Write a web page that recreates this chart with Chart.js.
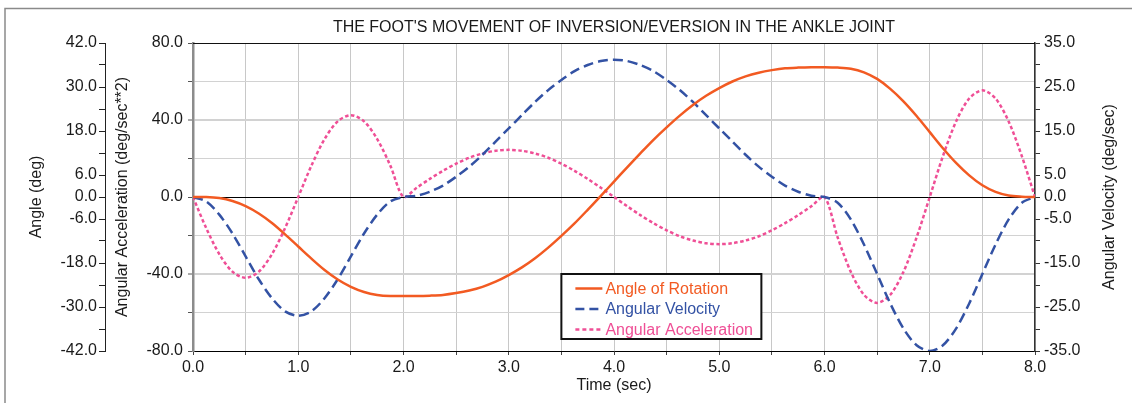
<!DOCTYPE html>
<html>
<head>
<meta charset="utf-8">
<script src="https://cdn.jsdelivr.net/npm/chart.js@4.4.0/dist/chart.umd.min.js"></script>
<style>
  html, body { margin: 0; padding: 0; background: #fff; }
  #wrap { width: 1132px; height: 403px; position: relative; }
</style>
</head>
<body>
<div id="wrap"><canvas id="chart" width="1132" height="403"></canvas></div>
<script>
// Time samples (sec), one every 0.125 s
const times = [
  0, 0.125, 0.25, 0.375, 0.5, 0.625, 0.75, 0.875, 1, 1.125, 1.25, 1.375, 1.5, 1.625, 1.75, 1.875,
  2, 2.125, 2.25, 2.375, 2.5, 2.625, 2.75, 2.875, 3, 3.125, 3.25, 3.375, 3.5, 3.625, 3.75, 3.875,
  4, 4.125, 4.25, 4.375, 4.5, 4.625, 4.75, 4.875, 5, 5.125, 5.25, 5.375, 5.5, 5.625, 5.75, 5.875,
  6, 6.125, 6.25, 6.375, 6.5, 6.625, 6.75, 6.875, 7, 7.125, 7.25, 7.375, 7.5, 7.625, 7.75, 7.875, 8
];

// Angle of rotation (deg)
const angle = [
  0, 0.0, -0.3, -1.1, -2.5, -4.5, -7.1, -10.2, -13.5, -16.8, -19.9, -22.5, -24.5, -25.9, -26.7, -27.0,
  -27.0, -27.0, -26.9, -26.7, -26.2, -25.5, -24.5, -23.1, -21.3, -19.2, -16.7, -13.8, -10.6, -7.2, -3.5, 0.3,
  4.2, 8.1, 11.9, 15.6, 19.0, 22.2, 25.1, 27.6, 29.7, 31.5, 32.9, 33.9, 34.6, 35.1, 35.3, 35.4,
  35.4, 35.3, 35.0, 34.0, 32.2, 29.5, 26.1, 22.1, 17.7, 13.3, 9.3, 5.9, 3.2, 1.4, 0.4, 0.1, 0.0
];

// Angular velocity (deg/sec)
const velocity = [
  0, -1.0, -4.0, -8.3, -13.5, -18.7, -23.0, -26.0, -27.0, -26.0, -23.0, -18.7, -13.5, -8.3, -4.0, -1.0,
  0, 0.3, 1.2, 2.6, 4.6, 6.9, 9.6, 12.6, 15.6, 18.6, 21.6, 24.3, 26.6, 28.6, 30.0, 30.9,
  31.2, 30.9, 30.0, 28.6, 26.6, 24.3, 21.6, 18.6, 15.6, 12.6, 9.6, 6.9, 4.6, 2.6, 1.2, 0.3,
  0, -1.3, -5.1, -10.8, -17.5, -24.2, -29.9, -33.7, -35.0, -33.7, -29.9, -24.2, -17.5, -10.8, -5.1, -1.3, 0
];

// Angular acceleration (deg/sec**2)
const acceleration = [
  0, -16.1, -29.7, -38.8, -42.0, -38.8, -29.7, -16.1, 0, 16.3, 30.1, 39.3, 42.5, 39.3, 30.1, 16.3,
  0, 4.8, 9.4, 13.6, 17.3, 20.4, 22.6, 24.0, 24.5, 24.0, 22.6, 20.4, 17.3, 13.6, 9.4, 4.8,
  0, -4.8, -9.4, -13.6, -17.3, -20.4, -22.6, -24.0, -24.5, -24.0, -22.6, -20.4, -17.3, -13.6, -9.4, -4.8,
  0, -21.0, -38.9, -50.8, -55.0, -50.8, -38.9, -21.0, 0, 21.2, 39.2, 51.2, 55.4, 51.2, 39.2, 21.2, 0
];

// Which tick values carry a label (the others are plain tick marks)
const angleTickLabels = [42, 30, 18, 6, 0, -6, -18, -30, -42];
const accTickLabels = [80, 40, 0, -40, -80];
const velTickLabels = [35, 25, 15, 5, 0, -5, -15, -25, -35];
const timeTickLabels = [0, 1, 2, 3, 4, 5, 6, 7, 8];

const seriesNames = ['Angle of Rotation', 'Angular Velocity', 'Angular Acceleration'];
const chartTitle = "THE FOOT'S MOVEMENT OF INVERSION/EVERSION IN THE ANKLE JOINT";
const velTitle = 'Angular Velocity (deg/sec)';

const FONT = "'Liberation Sans', Arial, sans-serif";
Chart.defaults.font.family = FONT;
Chart.defaults.font.size = 16;
Chart.defaults.color = '#1a1a1a';

function toPoints(ys) {
    return times.map((t, i) => ({ x: t, y: ys[i] }));
}

function labelIf(list) {
    return function(v) {
        const r = Math.round(v * 1000) / 1000;
        return list.includes(r) ? r.toFixed(1) : '';
    };
}

// Extra drawing: frame top, figure border, title, right axis title, legend
const decorPlugin = {
    id: 'decor',
    afterDraw(chart) {
        const ctx = chart.ctx;
        const a = chart.chartArea;
        ctx.save();

        // outer figure border
        ctx.strokeStyle = '#8a8a8a';
        ctx.lineWidth = 1.5;
        ctx.beginPath();
        ctx.moveTo(5, 403);
        ctx.lineTo(5, 8.5);
        ctx.lineTo(1132, 8.5);
        ctx.stroke();

        // top edge of the plot
        ctx.strokeStyle = '#111';
        ctx.lineWidth = 1;
        ctx.beginPath();
        ctx.moveTo(a.left, a.top + 0.5);
        ctx.lineTo(a.right, a.top + 0.5);
        ctx.stroke();

        // title
        ctx.fillStyle = '#1a1a1a';
        ctx.font = '16px ' + FONT;
        ctx.textAlign = 'center';
        ctx.textBaseline = 'middle';
        ctx.fillText(chartTitle, (a.left + a.right) / 2, 28);

        // right axis title reads upwards like the left ones
        ctx.save();
        ctx.translate(1110, (a.top + a.bottom) / 2);
        ctx.rotate(-Math.PI / 2);
        ctx.fillText(velTitle, 0, 0);
        ctx.restore();

        // legend box
        const lx = chart.scales.x.getPixelForValue(3.5);
        const ly = chart.scales.yAcc.getPixelForValue(-40);
        const lw = 200, lh = 65;
        ctx.fillStyle = '#fff';
        ctx.fillRect(lx, ly, lw, lh);
        ctx.strokeStyle = '#111';
        ctx.lineWidth = 2;
        ctx.strokeRect(lx, ly, lw, lh);

        chart.data.datasets.forEach((ds, i) => {
            const y = ly + 14.5 + i * 20.5;
            ctx.strokeStyle = ds.borderColor;
            ctx.lineWidth = 2.5;
            ctx.setLineDash(ds.legendDash);
            ctx.beginPath();
            ctx.moveTo(lx + 14, y);
            ctx.lineTo(lx + 41, y);
            ctx.stroke();
            ctx.setLineDash([]);
            ctx.fillStyle = ds.borderColor;
            ctx.textAlign = 'left';
            ctx.fillText(ds.label, lx + 44, y + 1);
        });

        ctx.restore();
    }
};

const ctx = document.getElementById('chart').getContext('2d');
const chart = new Chart(ctx, {
    type: 'line',
    data: {
        datasets: [
            {
                label: seriesNames[0],
                data: toPoints(angle),
                yAxisID: 'yAngle',
                borderColor: '#f25a22',
                borderWidth: 2.5,
                borderDash: [],
                legendDash: [],
                pointRadius: 0,
                tension: 0.3
            },
            {
                label: seriesNames[1],
                data: toPoints(velocity),
                yAxisID: 'yVel',
                borderColor: '#3352a4',
                borderWidth: 2.5,
                borderDash: [10, 5],
                legendDash: [9, 5],
                pointRadius: 0,
                tension: 0.3
            },
            {
                label: seriesNames[2],
                data: toPoints(acceleration),
                yAxisID: 'yAcc',
                borderColor: '#ef4f96',
                borderWidth: 2.5,
                borderDash: [3.5, 2.5],
                legendDash: [4, 3],
                pointRadius: 0,
                tension: 0.3
            }
        ]
    },
    options: {
        responsive: false,
        animation: false,
        layout: { padding: { left: 20, right: 0, top: 43, bottom: 2 } },
        plugins: {
            legend: { display: false },
            tooltip: { enabled: false },
            title: { display: false }
        },
        scales: {
            x: {
                type: 'linear',
                position: 'bottom',
                min: 0,
                max: 8,
                ticks: {
                    stepSize: 0.5,
                    autoSkip: false,
                    maxRotation: 0,
                    padding: 3,
                    callback: labelIf(timeTickLabels)
                },
                grid: { color: '#c8c8c8', lineWidth: 1, tickLength: 4, tickColor: '#444' },
                border: { color: '#000', width: 1 },
                title: { display: true, text: 'Time (sec)', padding: { top: 0, bottom: 6 } },
                afterFit: s => { s.height = 50; }
            },
            yAngle: {
                type: 'linear',
                position: 'left',
                weight: 1,
                min: -42,
                max: 42,
                ticks: { stepSize: 6, autoSkip: false, padding: 2, callback: labelIf(angleTickLabels) },
                grid: { drawOnChartArea: false, tickLength: 6, color: '#222' },
                border: { color: '#222', width: 1 },
                title: { display: true, text: 'Angle (deg)', padding: { top: 7, bottom: 0 } },
                afterFit: s => { s.width = 85; }
            },
            yAcc: {
                type: 'linear',
                position: 'left',
                weight: 0,
                min: -80,
                max: 80,
                ticks: { stepSize: 20, autoSkip: false, padding: 5, callback: labelIf(accTickLabels) },
                grid: {
                    tickLength: 5,
                    tickColor: '#555',
                    tickWidth: 1,
                    color: c => c.tick && c.tick.value === 0 ? '#000' : '#d2d2d2',
                    lineWidth: c => c.tick && Math.abs(c.tick.value) === 40 ? 2 : 1
                },
                border: { color: '#8c8c8c', width: 2.5 },
                title: { display: true, text: 'Angular Acceleration (deg/sec**2)', padding: { top: 8, bottom: 0 } },
                afterFit: s => { s.width = 88; }
            },
            yVel: {
                type: 'linear',
                position: 'right',
                min: -35,
                max: 35,
                ticks: { stepSize: 5, autoSkip: false, padding: 4, callback: labelIf(velTickLabels) },
                grid: { drawOnChartArea: false, tickLength: 5, color: '#333' },
                border: { color: '#333', width: 1.5 },
                title: { display: false },
                afterFit: s => { s.width = 97; }
            }
        }
    },
    plugins: [decorPlugin]
});
</script>
</body>
</html>
